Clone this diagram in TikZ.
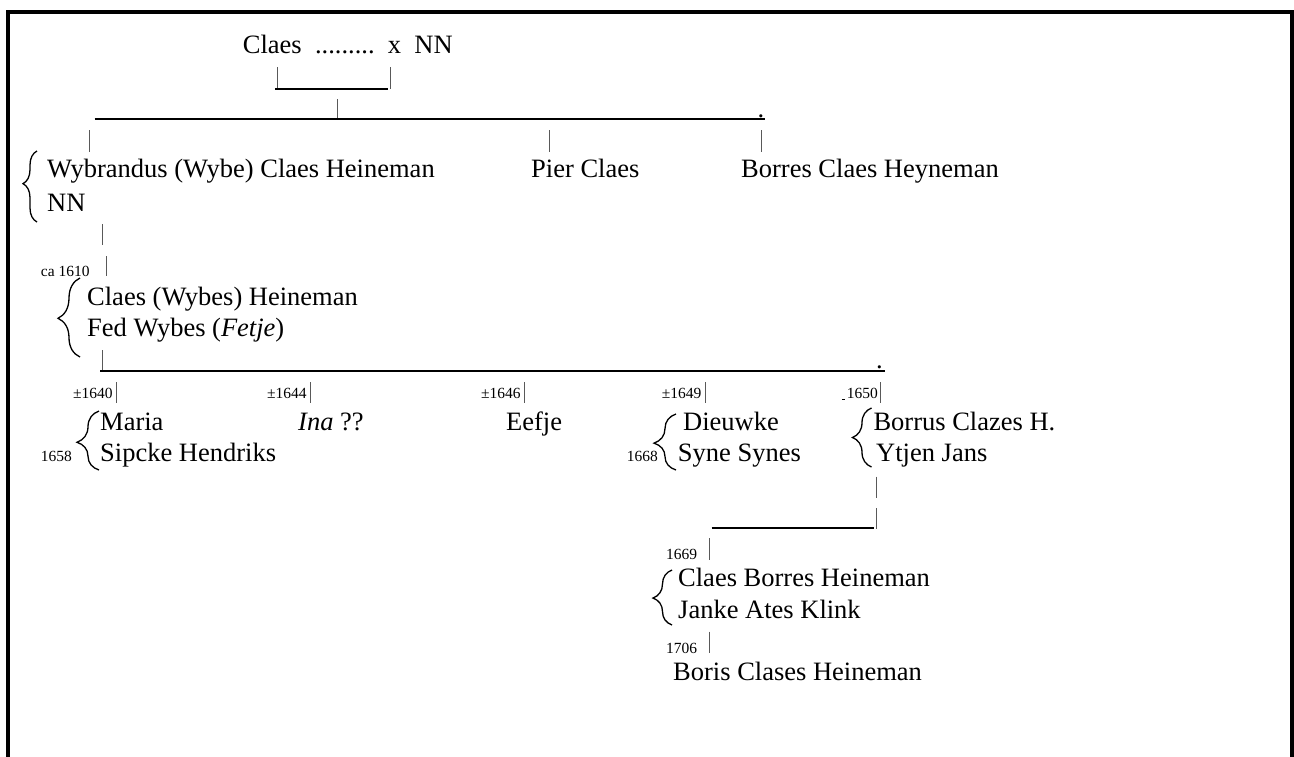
\documentclass[tikz,border=0pt]{standalone}
\usepackage{fontspec}
\setmainfont{Liberation Serif}
\usetikzlibrary{decorations.pathreplacing}
\begin{document}
\begin{tikzpicture}[x=1pt,y=-1pt,
  person/.style={anchor=base west,inner sep=0pt,font=\fontsize{26.5}{32}\selectfont},
  datum/.style={anchor=base west,inner sep=0pt,font=\fontsize{15.5}{18}\selectfont},
  vbar/.style={line width=1pt,draw=black!65},
  hbar/.style={line width=2.2pt,draw=black},
  frameline/.style={line width=4pt,draw=black,line join=miter},
  famb/.style={decorate,line width=1.3pt,decoration={brace,amplitude=#1}},
  famb/.default=20pt]
\useasboundingbox (0,0) rectangle (1294,756);
% frame
\draw[frameline] (8,760) -- (8,11.5) -- (1291.5,11.5) -- (1291.5,760);

% ---- generation 0
\node[person] (claes0) at (242.7,53.3) {Claes~~.........~~x~~NN};
\coordinate (b0l) at (277.3,67); \coordinate (b0lb) at (277.3,89);
\coordinate (b0r) at (390,67);   \coordinate (b0rb) at (390,89);
\draw[vbar] (b0l) -- (b0lb);
\draw[vbar] (b0r) -- (b0rb);
\draw[hbar] (275,88.7) -- (388,88.7);
\coordinate (c0t) at (337.7,99); \coordinate (c0b) at (337.7,120);
\draw[vbar] (c0t) -- (c0b);
\coordinate (m1l) at (94.6,119.3); \coordinate (m1r) at (764.6,119.3);
\draw[hbar] (m1l) -- (m1r);
\node[person] (dot1) at (757.5,117) {.};

% ---- generation 1
\node[person] (wybe) at (47,177.7) {Wybrandus (Wybe) Claes Heineman};
\node[person] (wybenn) at (47,211) {NN};
\node[person] (pier) at (531,177.7) {Pier Claes};
\node[person] (borres) at (741,177.7) {Borres Claes Heyneman};
\draw[vbar] (89,130) -- (89,152);
\draw[vbar] (549,130) -- (549,152);
\draw[vbar] (761.5,130) -- (761.5,152);
\draw[famb=14pt,decoration={aspect=0.54}] (37,222) -- (37,151);
\draw[vbar] (102.7,224) -- (102.7,245);
\draw[vbar] (106,256) -- (106,276);

% ---- generation 2
\node[datum] (d1610) at (40.7,276.7) {ca 1610};
\node[person] (claesw) at (87,305) {Claes (Wybes) Heineman};
\node[person] (fed) at (87,336.7) {Fed Wybes (\textit{Fetje})};
\draw[famb=22pt,decoration={aspect=0.49}] (80,357) -- (80,278);
\draw[vbar] (102.7,350) -- (102.7,371);
\coordinate (m2l) at (100,371); \coordinate (m2r) at (885,371);
\draw[hbar] (m2l) -- (m2r);
\node[person] (dot2) at (876,368.5) {.};

% ---- generation 3
\node[datum] (d1640) at (73,398) {±1640};
\node[datum] (d1644) at (267,398) {±1644};
\node[datum] (d1646) at (481,398) {±1646};
\node[datum] (d1649) at (661.7,398) {±1649};
\node[datum] (d1650) at (841.7,398) {\rule[-1.5pt]{3.5pt}{0.8pt}\hspace{1.5pt}1650};
\draw[vbar] (116.7,382) -- (116.7,403);
\draw[vbar] (310.7,382) -- (310.7,403);
\draw[vbar] (524.3,382) -- (524.3,403);
\draw[vbar] (705,382) -- (705,403);
\draw[vbar] (880,382) -- (880,403);

\node[person] (maria) at (100,430) {Maria};
\node[person] (sipcke) at (100,461.7) {Sipcke Hendriks};
\node[datum] (d1658) at (40.7,461.7) {1658};
\draw[famb=22pt,decoration={aspect=0.47}] (99,470) -- (99,411);

\node[person] (ina) at (298,430) {\textit{Ina} ??};
\node[person] (eefje) at (506,430) {Eefje};

\node[person] (dieuwke) at (683,430) {Dieuwke};
\node[person] (syne) at (677.7,461) {Syne Synes};
\node[datum] (d1668) at (626.7,461) {1668};
\draw[famb=22pt,decoration={aspect=0.48}] (676,470) -- (676,414);

\node[person] (borrus) at (873.3,430) {Borrus Clazes H.};
\node[person] (ytjen) at (876,461.7) {Ytjen Jans};
\draw[famb=19pt,decoration={aspect=0.5}] (871.5,467) -- (871.5,408);

\draw[vbar] (876,476.7) -- (876,498);
\draw[vbar] (876,508) -- (876,529);
\coordinate (m3l) at (711.7,527.7); \coordinate (m3r) at (874,527.7);
\draw[hbar] (m3l) -- (m3r);
\draw[vbar] (709.3,538) -- (709.3,560);

% ---- generation 4
\node[datum] (d1669) at (666,559.3) {1669};
\node[person] (claesb) at (678,586.7) {Claes Borres Heineman};
\node[person] (janke) at (678,618.3) {Janke Ates Klink};
\draw[famb=19pt,decoration={aspect=0.49}] (672,625) -- (672,570);
\node[datum] (d1706) at (666,653.3) {1706};
\draw[vbar] (709.3,631.7) -- (709.3,653.3);

% ---- generation 5
\node[person] (boris) at (673,680.7) {Boris Clases Heineman};
\end{tikzpicture}
\end{document}
